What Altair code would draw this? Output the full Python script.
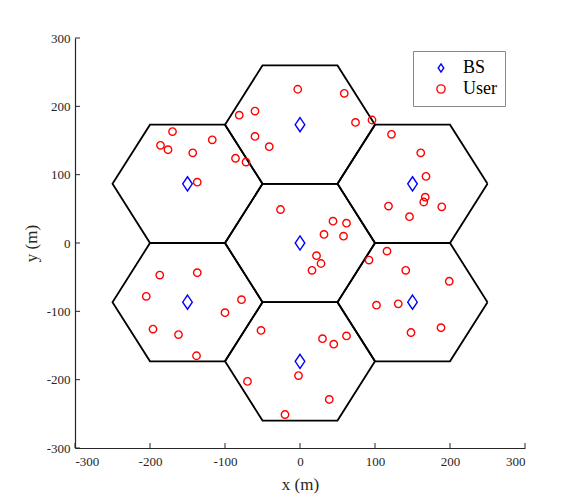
import math
import altair as alt
import pandas as pd

# ---- data ----
cell_cx = [0, 0, 0, 150, 150, -150, -150]
cell_cy = [0, 173.2, -173.2, 86.6, -86.6, 86.6, -86.6]
cell_radius = 100

bs_x = [0, 0, 0, 150, 150, -150, -150]
bs_y = [0, 173.2, -173.2, 86.6, -86.6, 86.6, -86.6]

user_x = [-170, -186, -176, -143, -117, -137, -86, -72,
          -81, -60, -60, -41, -3, 59, 74, 96,
          -26, 44, 62, 32, 58, 22, 28, 16,
          122, 161, 168, 167, 165, 189, 118, 146,
          116, 92, 141, 199, 102, 131, 148, 188,
          -52, 30, 45, 62, -2, 39, -70, -20,
          -187, -137, -205, -78, -100, -196, -162, -138]
user_y = [163, 143, 136.5, 132, 151, 89, 124, 118.5,
          187, 193, 156, 141, 225, 219, 176.5, 180,
          49, 32, 29, 12.6, 10, -18.6, -30, -40,
          159, 132, 97.5, 67, 60, 53, 54, 38.5,
          -12, -25, -40, -56, -91, -89, -131, -124,
          -128, -140, -148, -136, -194, -229, -202.5, -251,
          -47, -43.5, -78, -83, -102, -126, -134, -165]

tick_vals = [-300, -200, -100, 0, 100, 200, 300]
series = ["BS", "User"]

# ---- tables ----
hex_rows = []
for i, (cx, cy) in enumerate(zip(cell_cx, cell_cy)):
    for k in range(7):
        a = math.radians(60 * (k % 6))
        hex_rows.append({"cell": i, "order": k,
                         "x": cx + cell_radius * math.cos(a),
                         "y": cy + cell_radius * math.sin(a)})
hex_df = pd.DataFrame(hex_rows)

pts = pd.DataFrame({
    "x": bs_x + user_x,
    "y": bs_y + user_y,
    "type": ["BS"] * len(bs_x) + ["User"] * len(user_x),
})
ticks_df = pd.DataFrame({"v": tick_vals})

W, H = 450, 410
FONT = "Liberation Serif"
AX = "#262626"
LABEL_EXPR = "datum.value < 0 ? '-' + abs(datum.value) : '' + datum.value"

xs = alt.Scale(domain=[-300, 300], nice=False, zero=False)
ys = alt.Scale(domain=[-300, 300], nice=False, zero=False)

diamond = "M0,-1L0.68,0L0,1L-0.68,0Z"
legend = alt.Legend(title=None, labelExpr="datum.label + '\u00a0\u00a0\u00a0'")
color_enc = alt.Color("type:N", scale=alt.Scale(domain=series, range=["#0000ff", "#ff0000"]),
                      legend=legend)
shape_enc = alt.Shape("type:N", scale=alt.Scale(domain=series, range=[diamond, "circle"]),
                      legend=legend)

x_axis = alt.Axis(values=tick_vals, ticks=False, grid=False, labelFont=FONT, labelFontSize=13,
                  labelColor=AX, domainColor=AX, domainWidth=1.2, labelPadding=7,
                  labelExpr=LABEL_EXPR,
                  title="x (m)", titleFont=FONT, titleFontSize=17, titleFontWeight="normal",
                  titleColor=AX, titlePadding=8)
y_axis = alt.Axis(values=tick_vals, ticks=False, grid=False, labelFont=FONT, labelFontSize=13,
                  labelColor=AX, domainColor=AX, domainWidth=1.2, labelPadding=5,
                  labelExpr=LABEL_EXPR,
                  title="y (m)", titleFont=FONT, titleFontSize=17, titleFontWeight="normal",
                  titleColor=AX, titlePadding=6)

hexes = alt.Chart(hex_df).mark_line(color="black", strokeWidth=1.8).encode(
    x=alt.X("x:Q", scale=xs, axis=x_axis),
    y=alt.Y("y:Q", scale=ys, axis=y_axis),
    detail="cell:N",
    order="order:Q",
)

bs_layer = alt.Chart(pts).transform_filter(alt.datum.type == "BS").mark_point(
    filled=False, strokeWidth=1.4, size=200, opacity=1
).encode(x=alt.X("x:Q", scale=xs), y=alt.Y("y:Q", scale=ys), color=color_enc, shape=shape_enc)

user_layer = alt.Chart(pts).transform_filter(alt.datum.type == "User").mark_point(
    filled=False, strokeWidth=1.4, size=55, opacity=1
).encode(x=alt.X("x:Q", scale=xs), y=alt.Y("y:Q", scale=ys), color=color_enc, shape=shape_enc)

xticks = alt.Chart(ticks_df).mark_rule(color=AX, strokeWidth=1).encode(
    x=alt.X("v:Q", scale=xs), y=alt.value(H - 5), y2=alt.value(H))
yticks = alt.Chart(ticks_df).mark_rule(color=AX, strokeWidth=1).encode(
    y=alt.Y("v:Q", scale=ys), x=alt.value(0), x2=alt.value(5))

chart = alt.layer(hexes, xticks, yticks, bs_layer, user_layer).properties(
    width=W, height=H,
    autosize=alt.AutoSizeParams(type="none"),
    padding={"left": 67, "top": 30, "right": 40, "bottom": 52},
).configure_view(stroke=None).configure_legend(
    orient="none", legendX=338, legendY=13, strokeColor="#888888", fillColor="white",
    padding=8, labelFont=FONT, labelFontSize=18, labelColor="black", symbolSize=68,
    symbolStrokeWidth=1.4, rowPadding=3, symbolOffset=11, labelOffset=13, cornerRadius=0,
    strokeWidth=1, labelLimit=200,
)

chart.save("out.html", embed_options={"renderer": "svg", "actions": False})
